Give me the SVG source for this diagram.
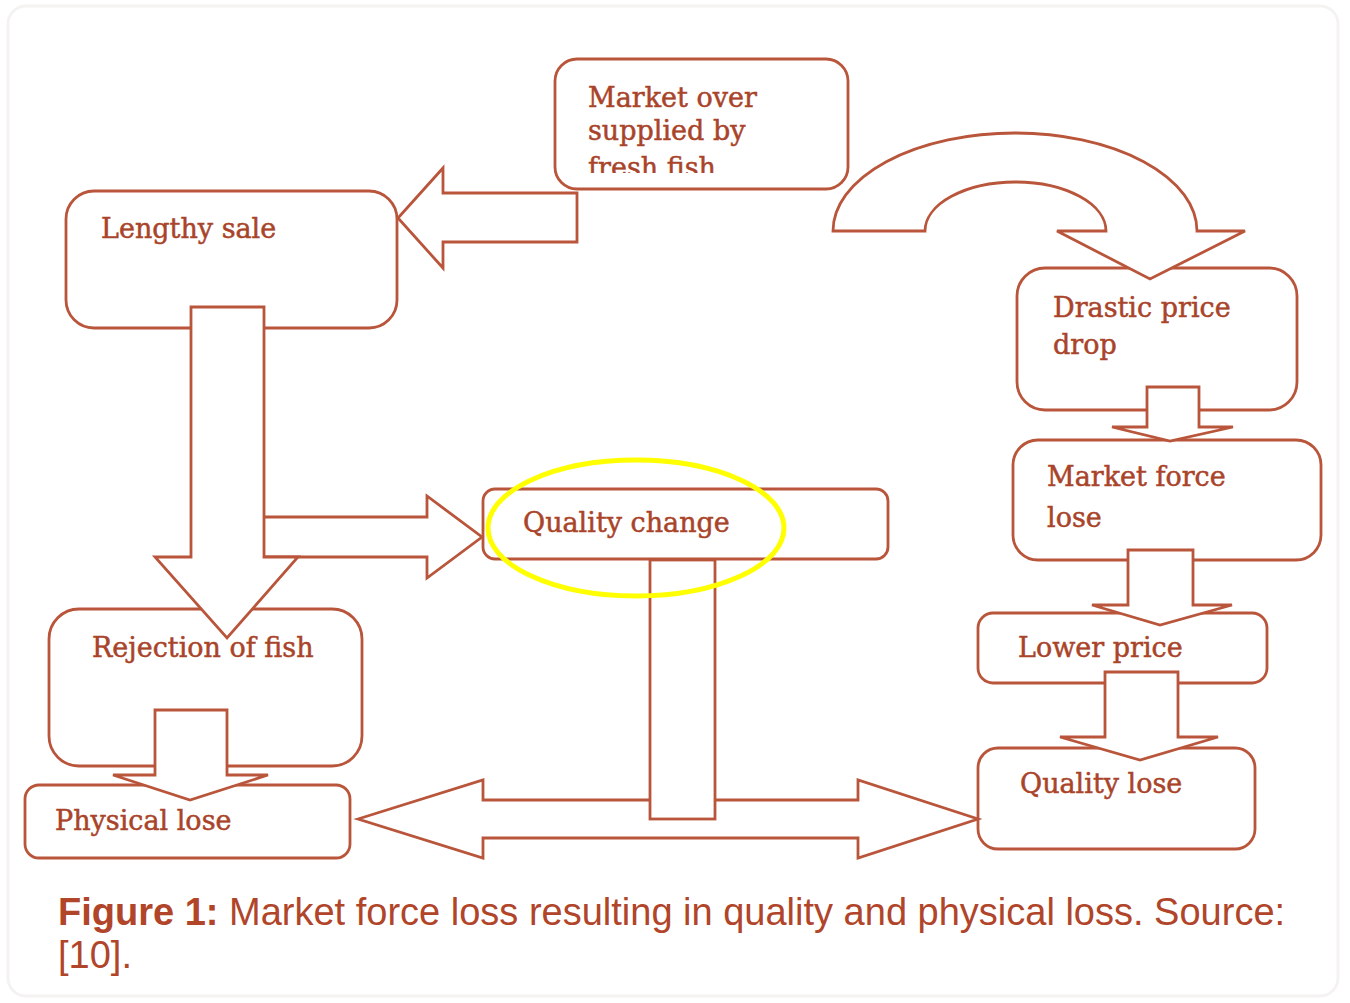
<svg xmlns="http://www.w3.org/2000/svg" width="1350" height="1003" viewBox="0 0 1350 1003">
  <style>
    .box { fill: #ffffff; stroke: #b9553a; stroke-width: 2.8; }
    .arr { fill: #ffffff; stroke: #b9553a; stroke-width: 2.8; stroke-linejoin: miter; }
    .lbl { font-family: "DejaVu Serif", "Liberation Serif", serif; font-size: 27px; fill: #a9442a; stroke: #a9442a; stroke-width: 0.5; }
    .cap { font-family: "Liberation Sans", Arial, sans-serif; font-size: 38px; fill: #b0452a; }
  </style>
  <defs>
    <clipPath id="clipMarket">
      <rect x="556" y="60" width="290" height="113"/>
    </clipPath>
  </defs>
  <rect x="0" y="0" width="1350" height="1003" fill="#ffffff"/>
  <rect x="8" y="6" width="1330" height="990" rx="18" fill="none" stroke="#f5f3f2" stroke-width="3"/>

  <g id="node-market-over">
    <rect class="box" x="555" y="59" width="293" height="130" rx="22"/>
    <g clip-path="url(#clipMarket)">
      <text class="lbl" x="588" y="107">Market over</text>
      <text class="lbl" x="588" y="140">supplied by</text>
      <text class="lbl" x="588" y="177">fresh fish</text>
    </g>
  </g>
  <g id="node-lengthy-sale">
    <rect class="box" x="66" y="191" width="331" height="137" rx="28"/>
    <text class="lbl" x="101" y="238">Lengthy sale</text>
  </g>
  <g id="node-drastic-price-drop">
    <rect class="box" x="1017" y="268" width="280" height="142" rx="28"/>
    <text class="lbl" x="1053" y="317">Drastic price</text>
    <text class="lbl" x="1053" y="354">drop</text>
  </g>
  <g id="node-market-force-lose">
    <rect class="box" x="1013" y="440" width="308" height="120" rx="25"/>
    <text class="lbl" x="1047" y="486">Market force</text>
    <text class="lbl" x="1047" y="527">lose</text>
  </g>
  <g id="node-lower-price">
    <rect class="box" x="978" y="613" width="289" height="70" rx="15"/>
    <text class="lbl" x="1018" y="657">Lower price</text>
  </g>
  <g id="node-quality-lose">
    <rect class="box" x="978" y="748" width="277" height="101" rx="20"/>
    <text class="lbl" x="1020" y="793">Quality lose</text>
  </g>
  <g id="node-quality-change">
    <rect class="box" x="483" y="489" width="405" height="70" rx="12"/>
    <text class="lbl" x="523" y="532">Quality change</text>
  </g>
  <g id="node-rejection">
    <rect class="box" x="49" y="609" width="313" height="157" rx="30"/>
    <text class="lbl" x="92" y="657">Rejection of fish</text>
  </g>
  <g id="node-physical-lose">
    <rect class="box" x="25" y="785" width="325" height="73" rx="14"/>
    <text class="lbl" x="55" y="830">Physical lose</text>
  </g>

  <g id="connectors">
    <!-- Market over -> Lengthy sale -->
    <path class="arr" d="M577,193 L443,193 L443,168 L398,218 L443,268 L443,242 L577,242 Z"/>
    <!-- Market over -> Drastic price drop (curved) -->
    <path class="arr" d="M833,231 A182,98 0 0 1 1197,231 L1245,231 L1150,279 L1057,231 L1106,231 A90.5,49 0 0 0 925,231 Z"/>
    <!-- Lengthy sale -> Quality change -->
    <path class="arr" d="M262,517 L427,517 L427,496 L482,537 L427,578 L427,557 L262,557 Z"/>
    <!-- Lengthy sale -> Rejection of fish -->
    <path class="arr" d="M191,307 L264,307 L264,557 L298,557 L227,638 L155,557 L191,557 Z"/>
    <!-- Rejection -> Physical lose -->
    <path class="arr" d="M155,710 L227,710 L227,775 L268,775 L190,800 L113,775 L155,775 Z"/>
    <!-- Drastic -> Market force -->
    <path class="arr" d="M1147,387 L1199,387 L1199,427 L1233,427 L1170,441 L1112,427 L1147,427 Z"/>
    <!-- Market force -> Lower price -->
    <path class="arr" d="M1128,550 L1193,550 L1193,605 L1232,605 L1160,625 L1092,605 L1128,605 Z"/>
    <!-- Lower price -> Quality lose -->
    <path class="arr" d="M1105,672 L1178,672 L1178,737 L1218,737 L1140,760 L1060,737 L1105,737 Z"/>
    <!-- Double arrow Physical lose <-> Quality lose -->
    <path class="arr" d="M358,819 L483,780 L483,800 L858,800 L858,780 L978,819 L858,858 L858,838 L483,838 L483,858 Z"/>
    <!-- Stem from Quality change -->
    <rect class="arr" x="650" y="560" width="65" height="259"/>
  </g>

  <ellipse cx="636" cy="528" rx="148" ry="68" fill="none" stroke="#ffff00" stroke-width="5"/>

  <text class="cap" x="58" y="925"><tspan font-weight="bold">Figure 1:</tspan> Market force loss resulting in quality and physical loss. Source:</text>
  <text class="cap" x="58" y="968">[10].</text>
</svg>
